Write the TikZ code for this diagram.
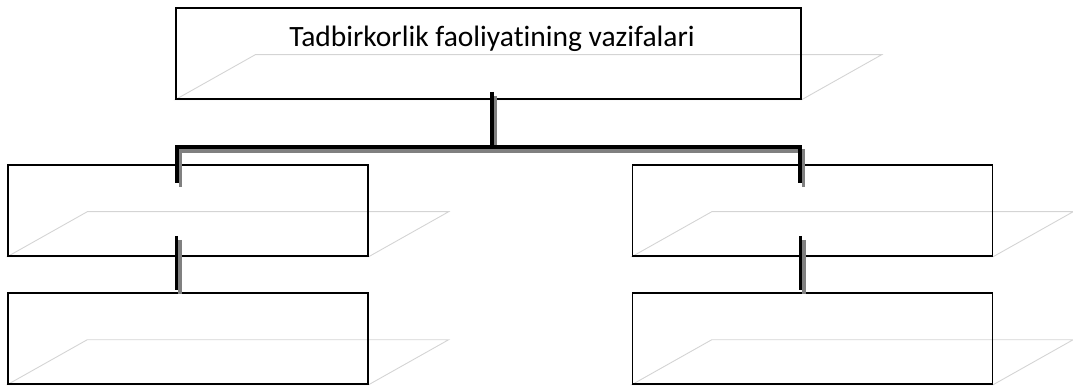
\documentclass[tikz,border=0pt]{standalone}
\usepackage{fontspec}
\setmainfont{Carlito}[Ligatures=NoCommon]
\pgfdeclarelayer{bg}
\pgfsetlayers{bg,main}
\tikzset{
  box/.style={draw=black, line width=1.4pt, fill=none, rectangle, inner sep=0pt},
  topbox/.style={box, minimum width=625pt, minimum height=91pt},
  subbox/.style={box, minimum width=360pt, minimum height=91pt},
  plane/.style={draw=black!17, line width=0.9pt},
  conn/.style={draw=black, line width=3.6pt, miter limit=10},
  connshadow/.style={draw=black!50, line width=3.6pt, transform canvas={shift={(3.5pt,-4pt)}}},
  title/.style={font=\fontsize{29.5}{34}\selectfont, inner sep=0pt}
}
\newcommand{\planeof}[1]{%
  \begin{pgfonlayer}{bg}
    \draw[plane] (#1.south west) -- (#1.south east) -- ([shift={(80,-45)}]#1.south east)
      -- ([shift={(80,-45)}]#1.south west) -- cycle;
  \end{pgfonlayer}}
\begin{document}
\begin{tikzpicture}[x=1pt,y=-1pt]
\useasboundingbox (0,0) rectangle (1073,387);
\node[topbox] (top) at (488.5,53.5) {};
\node[title] (ttl) at (492,39) {Tadbirkorlik faoliyatining vazifalari};
\node[subbox] (l1) at (188,210.5) {};
\node[subbox] (l2) at (188,338.5) {};
\node[subbox] (r1) at (812.5,210.5) {};
\node[subbox] (r2) at (812.5,338.5) {};
\planeof{top}
\planeof{l1}
\planeof{l2}
\planeof{r1}
\planeof{r2}
% connector coordinates
\coordinate (a) at (492,92);
\coordinate (b) at (492,147);
\coordinate (c1) at (177,147);
\coordinate (c2) at (177,183);
\coordinate (d1) at (800,147);
\coordinate (d2) at (800,183);
\coordinate (e1) at (176.5,236);
\coordinate (e2) at (176.5,290);
\coordinate (f1) at (800.5,236);
\coordinate (f2) at (800.5,290);
% shadows
\draw[connshadow] (a) -- (b);
\draw[connshadow] (c2) -- (c1) -- (d1) -- (d2);
\draw[connshadow] (e1) -- (e2);
\draw[connshadow] (f1) -- (f2);
% black lines
\draw[conn] (a) -- (b);
\draw[conn] (c2) -- (c1) -- (d1) -- (d2);
\draw[conn] (e1) -- (e2);
\draw[conn] (f1) -- (f2);
\end{tikzpicture}
\end{document}
